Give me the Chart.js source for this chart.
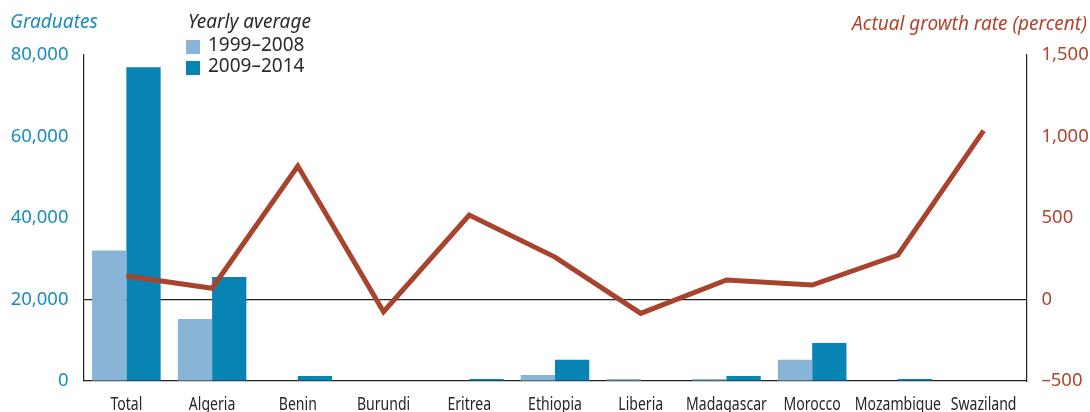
<!DOCTYPE html>
<html>
<head>
<meta charset="utf-8">
<script src="https://cdn.jsdelivr.net/npm/chart.js@4"></script>
<style>
  body { margin: 0; background: #fff; }
  #wrap { position: relative; width: 1090px; height: 412px; font-family: "Noto Sans", sans-serif; }
  #wrap canvas { position: absolute; left: 0; top: 0; }
  .lbl { position: absolute; font-size: 19px; white-space: nowrap; line-height: 1; }
  .it { font-style: italic; }
  .sw { position: absolute; width: 14px; height: 14px; }
</style>
</head>
<body>
<div id="wrap">
  <canvas id="chart" width="1090" height="412"></canvas>
  <div class="lbl it" style="left:10px; top:12px; color:#1a8cc0;">Graduates</div>
  <div class="lbl it" style="left:188px; top:12px; color:#2b2b2b;">Yearly average</div>
  <div class="sw" style="left:186px; top:40px; background:#88b4d6;"></div>
  <div class="lbl" style="left:208px; top:35px; color:#2b2b2b;">1999–2008</div>
  <div class="sw" style="left:186px; top:61px; background:#0884b4;"></div>
  <div class="lbl" style="left:208px; top:56px; color:#2b2b2b;">2009–2014</div>
  <div class="lbl it" style="right:3px; top:14px; color:#b0452f;">Actual growth rate (percent)</div>
</div>
<script>
// Graduates by country, yearly averages, plus actual growth rate
const countries = ['Total', 'Algeria', 'Benin', 'Burundi', 'Eritrea', 'Ethiopia', 'Liberia', 'Madagascar', 'Morocco', 'Mozambique', 'Swaziland'];
const grads9908 = [32000, 15200, 0, 0, 0, 1500, 500, 500, 5200, 0, 0];
const grads0914 = [77000, 25500, 1200, 0, 500, 5200, 0, 1200, 9300, 500, 0];
const growthRate = [144, 69, 819, -75, 518, 260, -85, 120, 89, 273, 1036];
const leftTicks = [0, 20000, 40000, 60000, 80000];
const rightTicks = [-500, 0, 500, 1000, 1500];

const blueText = '#1a8cc0';
const redText = '#b0452f';

function fmt(v) {
    return v < 0 ? '\u2013' + Math.abs(v).toLocaleString('en-US') : v.toLocaleString('en-US');
}

// condensed category labels, placed at the x scale's tick positions
const condensedLabels = {
    id: 'condensedLabels',
    afterDraw(chart) {
        const xs = chart.scales.x;
        const c = chart.ctx;
        c.save();
        c.font = '18px "Noto Sans", sans-serif';
        c.fillStyle = '#262626';
        c.textAlign = 'center';
        c.textBaseline = 'alphabetic';
        xs.ticks.forEach((t, i) => {
            const x = xs.getPixelForTick(i);
            c.save();
            c.translate(x, 410);
            c.scale(0.78, 1);
            c.fillText(countries[i], 0, 0);
            c.restore();
        });
        c.restore();
    }
};

const ctx = document.getElementById('chart').getContext('2d');
new Chart(ctx, {
    data: {
        labels: countries,
        datasets: [
            {
                type: 'line',
                data: growthRate,
                yAxisID: 'y1',
                borderColor: '#a8432d',
                borderWidth: 5,
                pointRadius: 0,
                tension: 0,
                order: 0
            },
            {
                type: 'bar',
                data: grads9908,
                yAxisID: 'y',
                backgroundColor: '#88b4d6',
                barPercentage: 1,
                categoryPercentage: 0.8,
                order: 1
            },
            {
                type: 'bar',
                data: grads0914,
                yAxisID: 'y',
                backgroundColor: '#0884b4',
                barPercentage: 1,
                categoryPercentage: 0.8,
                order: 1
            }
        ]
    },
    plugins: [condensedLabels],
    options: {
        responsive: false,
        animation: false,
        layout: { padding: { top: 55, left: 0, right: 0, bottom: 0 } },
        plugins: { legend: { display: false }, tooltip: { enabled: false } },
        scales: {
            x: {
                grid: { display: false, drawTicks: false },
                border: { display: true, color: '#222', width: 1.2 },
                ticks: { display: false, autoSkip: false },
                afterFit: s => { s.height = 31; }
            },
            y: {
                position: 'left',
                min: 0,
                max: 80000,
                afterBuildTicks: s => { s.ticks = leftTicks.map(v => ({ value: v })); },
                grid: {
                    drawTicks: false,
                    color: c => (c.tick && c.tick.value === 20000) ? '#222' : 'rgba(0,0,0,0)',
                    lineWidth: 1.2
                },
                border: { display: true, color: '#222', width: 1.2 },
                ticks: {
                    color: blueText,
                    padding: 15,
                    callback: v => fmt(v),
                    font: { family: '"Noto Sans", sans-serif', size: 18.5 }
                },
                afterFit: s => { s.width = 83.5; }
            },
            y1: {
                position: 'right',
                min: -500,
                max: 1500,
                afterBuildTicks: s => { s.ticks = rightTicks.map(v => ({ value: v })); },
                grid: { display: false, drawTicks: false },
                border: { display: true, color: '#222', width: 1.2 },
                ticks: {
                    color: redText,
                    padding: 15,
                    callback: v => fmt(v),
                    font: { family: '"Noto Sans", sans-serif', size: 18.5 }
                },
                afterFit: s => { s.width = 63.5; }
            }
        }
    }
});
</script>
</body>
</html>
